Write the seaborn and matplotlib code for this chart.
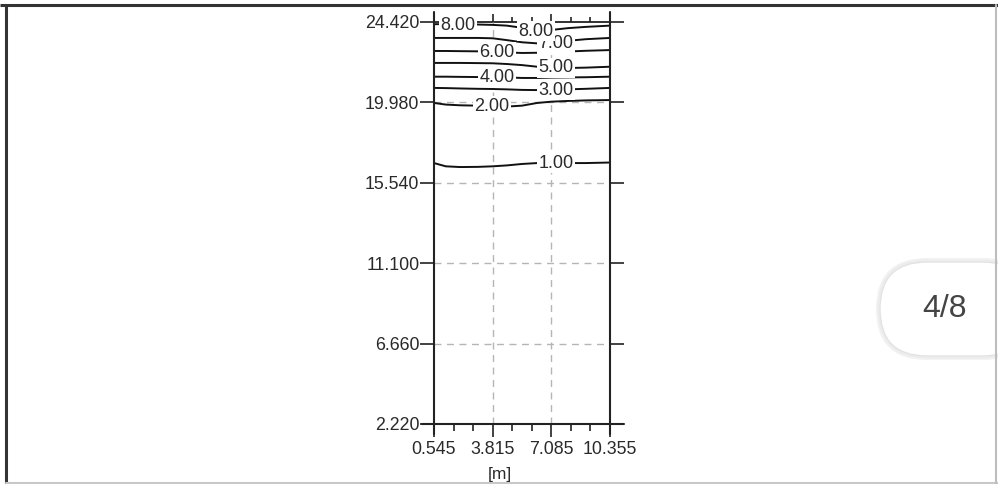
import matplotlib
matplotlib.use("Agg")
import matplotlib.pyplot as plt
from matplotlib.patches import FancyBboxPatch
from matplotlib.lines import Line2D
import numpy as np
import pandas as pd
import seaborn as sns

# ---------------- data ----------------
x_ticks = [0.545, 3.815, 7.085, 10.355]
y_ticks = [2.220, 6.660, 11.100, 15.540, 19.980, 24.420]
x_tick_labels = ["0.545", "3.815", "7.085", "10.355"]
y_tick_labels = ["2.220", "6.660", "11.100", "15.540", "19.980", "24.420"]

x_samples = [0.545, 1.2, 2.0, 3.0, 3.815, 4.6, 5.45, 6.3, 7.085, 8.0, 9.0, 10.355]
level_1 = [16.63, 16.45, 16.41, 16.42, 16.45, 16.50, 16.58, 16.63, 16.63, 16.63, 16.63, 16.66]
level_2 = [19.95, 19.86, 19.82, 19.80, 19.78, 19.75, 19.80, 19.95, 20.02, 20.06, 20.09, 20.11]
level_3 = [20.78, 20.77, 20.75, 20.73, 20.72, 20.70, 20.67, 20.66, 20.66, 20.70, 20.73, 20.78]
level_4 = [21.40, 21.40, 21.39, 21.38, 21.38, 21.36, 21.33, 21.33, 21.35, 21.36, 21.37, 21.40]
level_5 = [22.16, 22.16, 22.16, 22.15, 22.14, 22.10, 22.04, 21.95, 21.90, 21.88, 21.90, 21.95]
level_6 = [22.82, 22.82, 22.81, 22.80, 22.78, 22.74, 22.71, 22.72, 22.75, 22.79, 22.83, 22.87]
level_7 = [23.54, 23.54, 23.54, 23.54, 23.52, 23.42, 23.30, 23.24, 23.26, 23.38, 23.47, 23.54]
level_8 = [24.30, 24.30, 24.30, 24.28, 24.26, 24.22, 24.10, 23.95, 23.98, 24.08, 24.15, 24.22]
level_names = ["1.00", "2.00", "3.00", "4.00", "5.00", "6.00", "7.00", "8.00"]

# contour label anchor points (label text, x, depth)
label_text = ["1.00", "2.00", "3.00", "4.00", "5.00", "6.00", "7.00", "8.00", "8.00"]
label_x = [7.345, 3.778, 7.345, 4.057, 7.345, 4.057, 7.345, 1.883, 6.230]
label_y = [16.63, 19.78, 20.66, 21.38, 21.88, 22.76, 23.24, 24.25, 23.92]

page_text = "4/8"

# --------------- styling ---------------
sns.set_theme(style="white")
plt.rcParams["font.family"] = ["Liberation Sans", "DejaVu Sans"]
TXT = "#2a2a2a"

fig = plt.figure(figsize=(9.98, 4.84), dpi=100)
W, H = 998, 484

# pixel-space overlay for the screenshot decorations
bg = fig.add_axes([0, 0, 1, 1], zorder=0)
bg.set_xlim(0, W)
bg.set_ylim(H, 0)
bg.axis("off")

ax = fig.add_axes([434 / W, 60 / H, 176 / W, 402 / H], zorder=2)
ax.patch.set_alpha(0)

rows = []
for name, vals in zip(level_names, [level_1, level_2, level_3, level_4,
                                    level_5, level_6, level_7, level_8]):
    for xv, yv in zip(x_samples, vals):
        rows.append({"x": xv, "depth": yv, "level": name})
df = pd.DataFrame(rows)

sns.lineplot(data=df, x="x", y="depth", hue="level",
             palette=["#111111"] * len(level_names), estimator=None,
             sort=False, legend=False, linewidth=1.4, ax=ax, zorder=3)

ax.set_xlim(x_ticks[0], x_ticks[-1])
ax.set_ylim(y_ticks[0], y_ticks[-1])
ax.set_xticks(x_ticks)
ax.set_xticklabels(x_tick_labels)
ax.set_yticks(y_ticks)
ax.set_yticklabels(y_tick_labels)
minor_x = []
for a, b in zip(x_ticks[:-1], x_ticks[1:]):
    step = (b - a) / 3
    minor_x += [a + step, a + 2 * step]
ax.set_xticks(minor_x, minor=True)
ax.set_xlabel("")
ax.set_ylabel("")

# grid (dashed)
for xv in x_ticks[1:-1]:
    ax.axvline(xv, color="#b5b5b5", lw=1.0, ls=(0, (5, 4)), zorder=1)
for yv in y_ticks[1:-1]:
    ax.axhline(yv, color="#b5b5b5", lw=1.0, ls=(0, (5, 4)), zorder=1)

for s in ax.spines.values():
    s.set_visible(False)

ax.tick_params(axis="both", which="both", direction="out", color="#222222",
               width=1.2, labelcolor=TXT, labelsize=12.8)
ax.tick_params(axis="y", which="major", length=10, pad=0.5, left=True, right=True)
ax.tick_params(axis="x", which="major", length=9.5, pad=3, bottom=True, top=False)
ax.tick_params(axis="x", which="minor", length=5, bottom=True, top=False)

# top secondary axis for upward ticks
sec = ax.secondary_xaxis("top")
sec.set_xticks(x_ticks)
sec.set_xticks(minor_x, minor=True)
sec.tick_params(axis="x", which="major", length=5.5, width=1.2, labeltop=False, color="#222222")
sec.tick_params(axis="x", which="minor", length=3.5, width=1.2, color="#222222")
sec.spines["top"].set_color("#222222")
sec.spines["top"].set_linewidth(1.3)

# extended frame lines
kw = dict(transform=ax.transAxes, clip_on=False, color="#222222", lw=1.5, zorder=4)
ax.add_line(Line2D([0, 0], [-10 / 402, 1 + 10 / 402], **kw))
ax.add_line(Line2D([1, 1], [-10 / 402, 1 + 10 / 402], **kw))
ax.add_line(Line2D([-12 / 176, 1 + 14 / 176], [0, 0], **kw))

# contour labels
for t, xv, yv in zip(label_text, label_x, label_y):
    ax.text(xv, yv, t, ha="center", va="center", fontsize=13, color=TXT,
            zorder=6, clip_on=False,
            bbox=dict(boxstyle="square,pad=0.1", fc="white", ec="none"))

ax.text((500 - 434) / 176, (424 - 474) / 402, "[m]", transform=ax.transAxes,
        ha="center", va="center", fontsize=12.5, color=TXT)

# outer screenshot frame
bg.plot([0, W], [5, 5], color="#333333", lw=2.2, solid_capstyle="butt")
bg.plot([6, 6], [5, H], color="#333333", lw=2.2, solid_capstyle="butt")
bg.plot([6, W], [H - 1.5, H - 1.5], color="#c8c8c8", lw=1.5)

# page pill (with a faint shadow)
for off, col in [(3, "#f3f3f3"), (1.5, "#ececec")]:
    bg.add_patch(FancyBboxPatch((880 - off, 262 - off), 150 + 2 * off, 94 + 2 * off,
                                boxstyle="round,pad=0,rounding_size=%g" % (47 + off),
                                fc="none", ec=col, lw=1.5))
bg.add_patch(FancyBboxPatch((880, 262), 150, 94,
                            boxstyle="round,pad=0,rounding_size=47",
                            fc="white", ec="#e2e2e2", lw=1.0))
bg.plot([W - 1.5, W - 1.5], [5, H], color="#bdbdbd", lw=1.5)
bg.text(945, 309, page_text, ha="center", va="center",
        fontsize=23, color="#444444")

fig.savefig("out.png", dpi=100)
